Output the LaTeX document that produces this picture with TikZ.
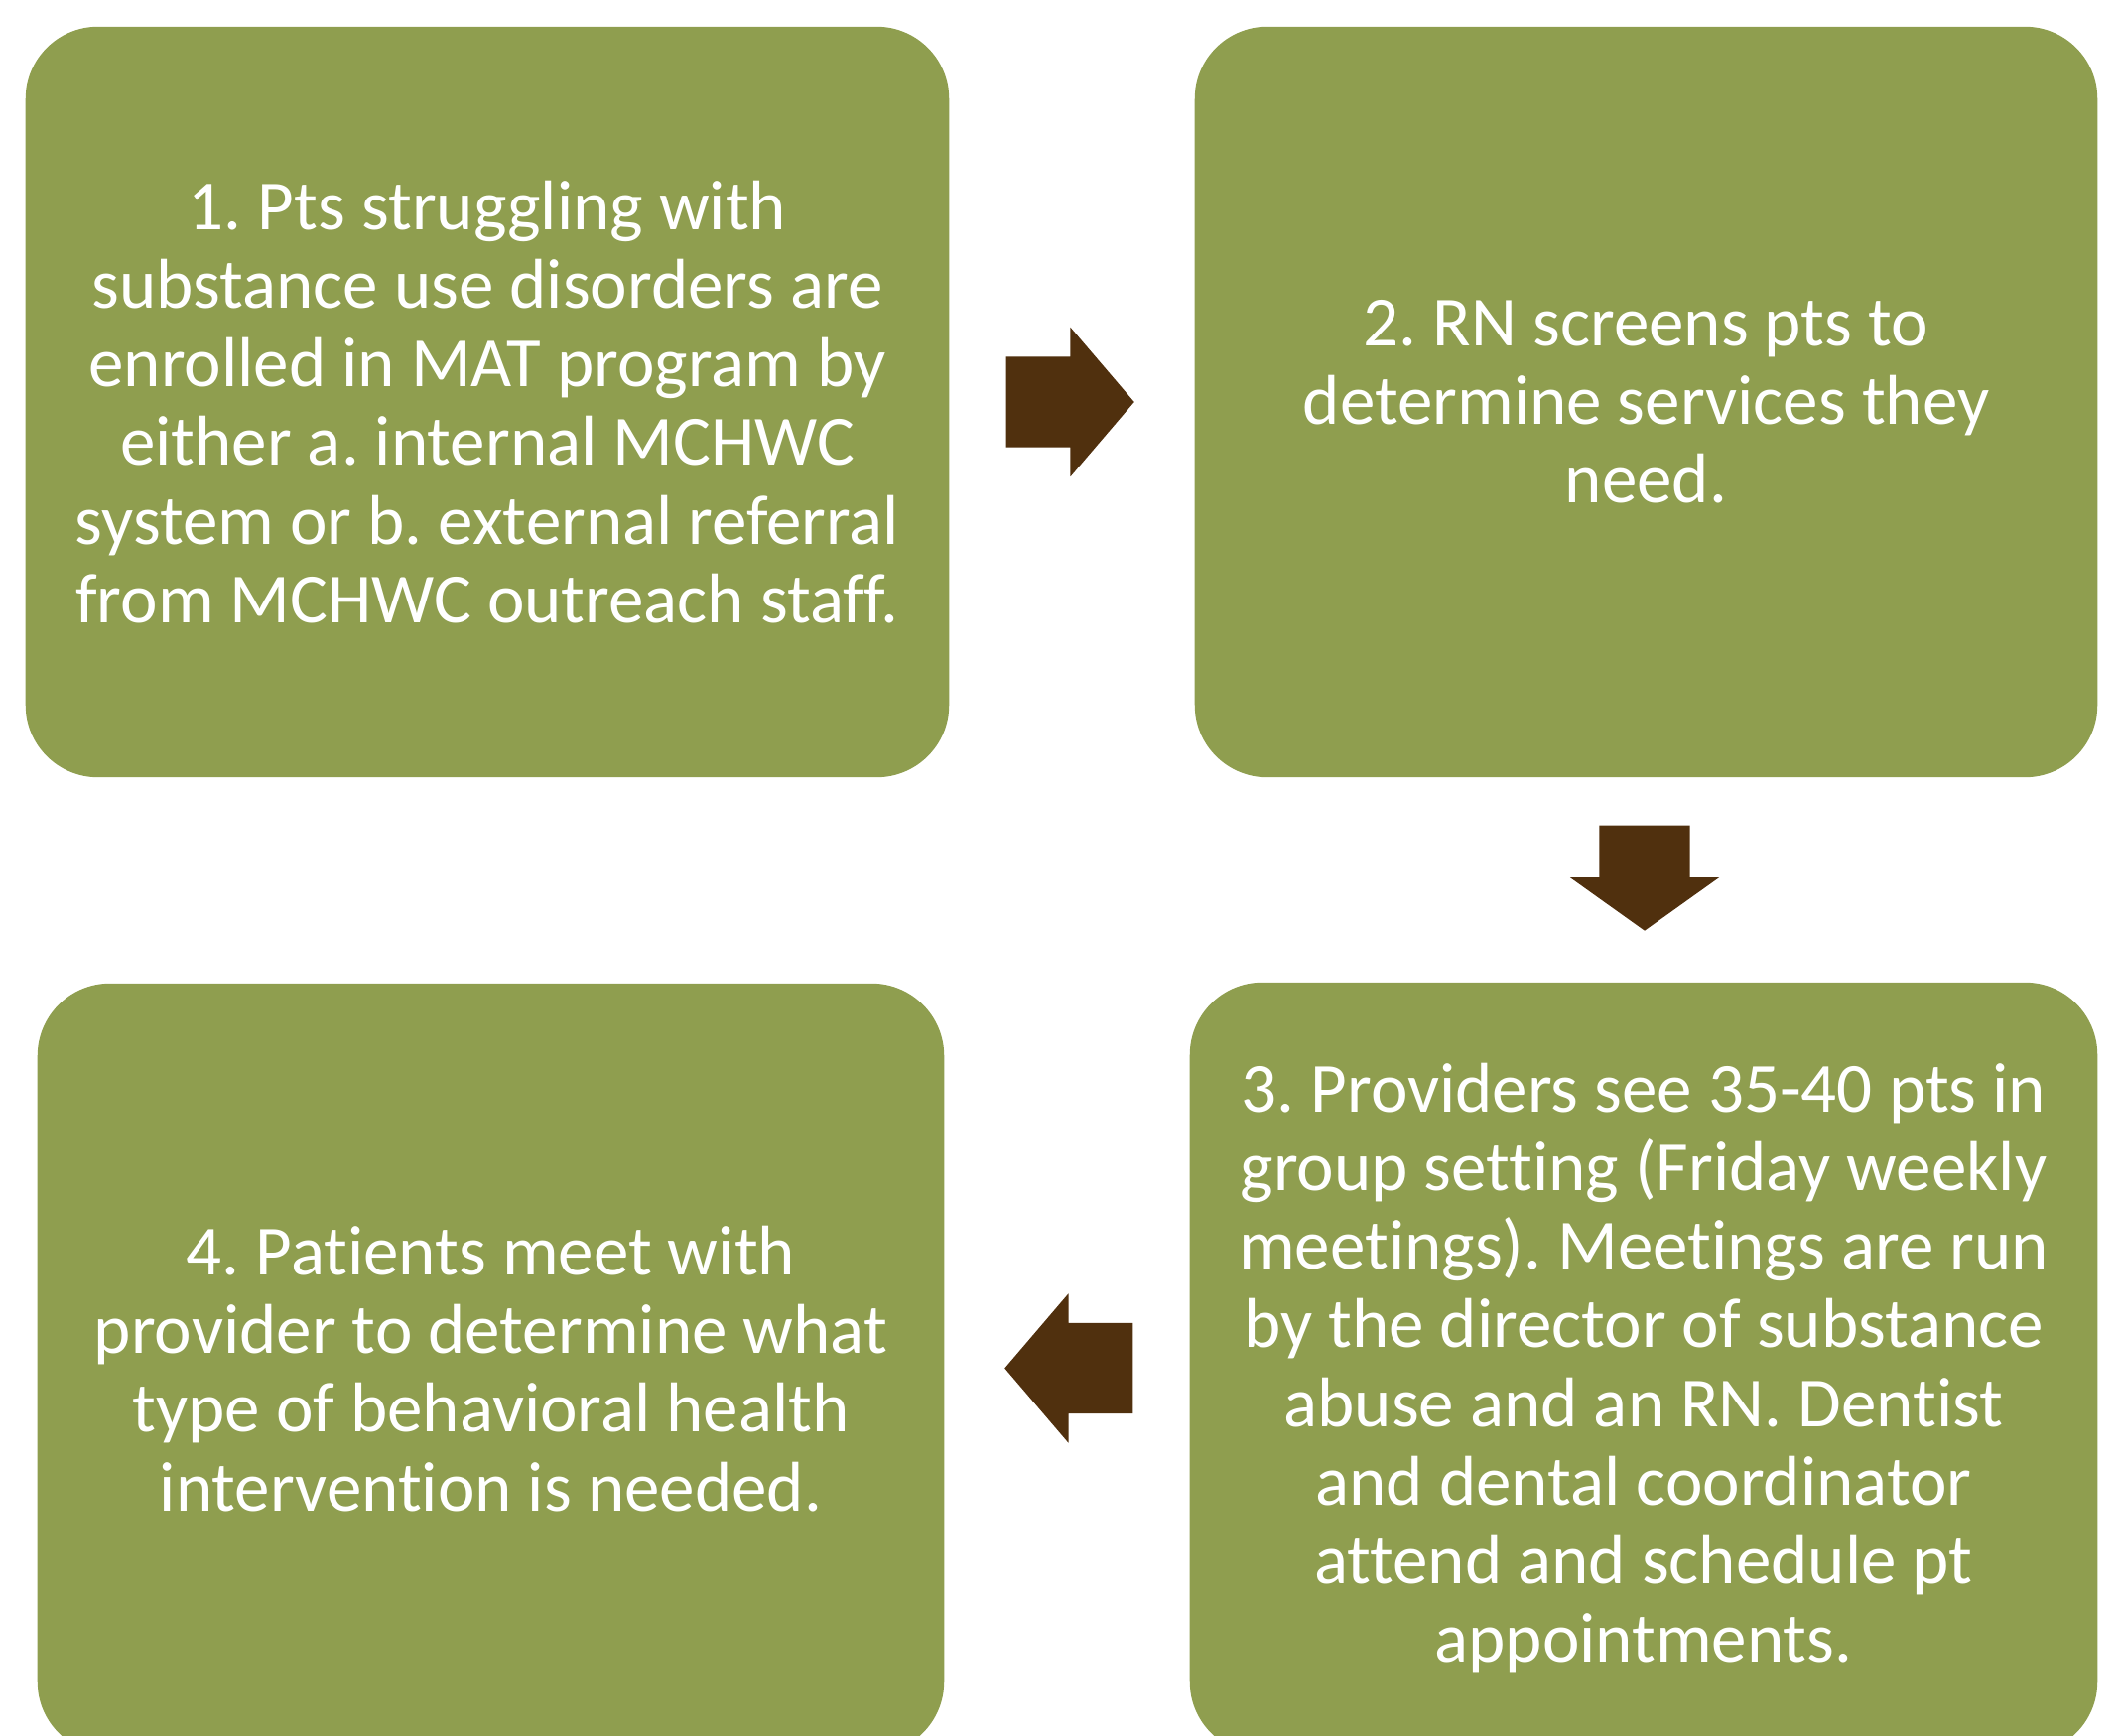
\documentclass[tikz,border=0pt]{standalone}
\usepackage{fontspec}
\setmainfont[Ligatures=NoCommon]{Carlito}
\usepackage{xcolor}
\usetikzlibrary{shapes.arrows}
\usetikzlibrary{calc}
\definecolor{stepgreen}{RGB}{143,158,79}
\definecolor{arrowbrown}{RGB}{80,48,14}
\frenchspacing
\tikzset{
stepbox/.style={
  rectangle,
  rounded corners=0.73cm,
  fill=stepgreen,
  text=white,
  align=center,
  inner sep=0pt,
  font=\fontsize{20.2}{22.5}\selectfont
},
flowarrow/.style={
  single arrow,
  fill=arrowbrown,
  anchor=tail,
  inner xsep=0pt,
  inner ysep=0.45cm,
  minimum width=1.49cm,
  single arrow head extend=0.295cm,
  minimum height=1.29cm,
  single arrow tip angle=99
},
downarrow/.style={
  flowarrow,
  shape border rotate=270,
  inner xsep=0.45cm,
  inner ysep=0pt,
  minimum height=1.06cm,
  single arrow tip angle=109
},
}

\begin{document}
\begin{tikzpicture}[x=0.01cm,y=-0.01cm]
\useasboundingbox (0,0) rectangle (2138,1749);
\clip (0,0) rectangle (2138,1749);
% the steps
\node[stepbox,minimum width=9.30cm,minimum height=7.56cm] (s1) at (491,405)
  {1. Pts struggling with\\substance use disorders are\\enrolled in MAT program by\\either a. internal MCHWC\\system or b. external referral\\from MCHWC outreach staff.};
\node[stepbox,minimum width=9.09cm,minimum height=7.56cm] (s2) at (1658.5,405)
  {2. RN screens pts to\\determine services they\\need.};
\node[stepbox,minimum width=9.14cm,minimum height=7.77cm] (s3) at (1656,1378.5)
  {3. Providers see 35-40 pts in\\group setting (Friday weekly\\meetings). Meetings are run\\by the director of substance\\abuse and an RN. Dentist\\and dental coordinator\\attend and schedule pt\\appointments.};
\node[stepbox,minimum width=9.13cm,minimum height=7.76cm] (s4) at (494.5,1379)
  {4. Patients meet with\\provider to determine what\\type of behavioral health\\intervention is needed.};
% the arrows
\node[flowarrow] (a12) at ($(s1.east)+(56,0)$) {};
\node[downarrow] (a23) at ($(s2.south)+(-1.5,47)$) {};
\node[flowarrow,shape border rotate=180] (a34) at ($(s3.west)+(-56,0)$) {};
\end{tikzpicture}
\end{document}
